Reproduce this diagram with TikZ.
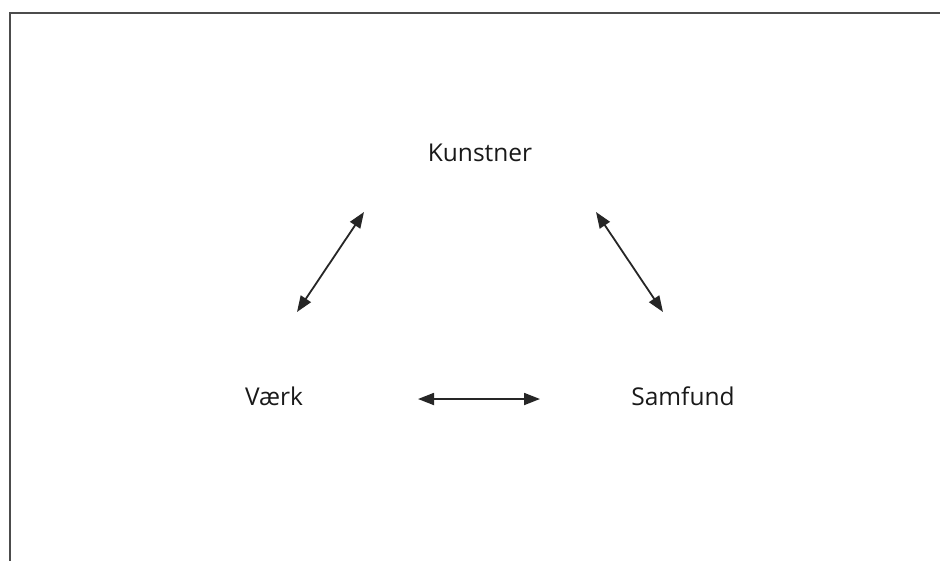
\documentclass[tikz,border=0pt]{standalone}
\usepackage{fontspec}
\setmainfont{Open Sans}
\usetikzlibrary{arrows.meta}
\begin{document}
\begin{tikzpicture}[x=1pt,y=-1pt,
  lbl/.style={font=\fontsize{24.5}{29}\selectfont, text=black!90, inner sep=0pt, anchor=base},
  link/.style={draw=black!85, line width=1.8pt,
    {Triangle[length=16pt,width=12pt]}-{Triangle[length=16pt,width=12pt]}},
  frame/.style={draw=black!70, line width=2.2pt}]
\useasboundingbox (0,0) rectangle (940,560);
% frame (only top and left edges inside the picture)
\coordinate (fbl) at (10,562);
\coordinate (ftl) at (10,13);
\coordinate (ftr) at (942,13);
\draw[frame] (fbl) -- (ftl) -- (ftr);
% labels
\node[lbl] (kunstner) at (480,161) {Kunstner};
\node[lbl] (vaerk) at (274,405) {Værk};
\node[lbl] (samfund) at (683,405) {Samfund};
% arrow end points
\coordinate (a1) at (364,212);
\coordinate (b1) at (297,312);
\coordinate (a2) at (596,212);
\coordinate (b2) at (663,312);
\coordinate (a3) at (418,399);
\coordinate (b3) at (540,399);
\draw[link] (a1) -- (b1);
\draw[link] (a2) -- (b2);
\draw[link] (a3) -- (b3);
\end{tikzpicture}
\end{document}
